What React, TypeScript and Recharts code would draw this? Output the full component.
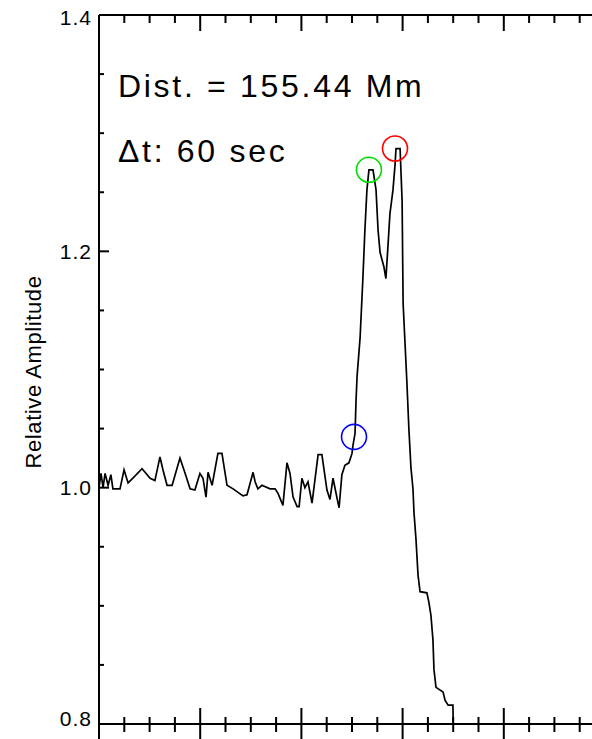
import { LineChart, Line, XAxis, YAxis, ReferenceDot, Customized } from 'recharts';

const time = [
    0, 0.8, 1.6, 2.4, 3.6, 4.7, 5.5, 8.3, 9.9, 11.5, 13.4, 17.0, 18.2, 20.2, 22.1, 24.1, 25.3, 26.9, 28.9,
    32.0, 33.6, 36.0, 37.9, 39.9, 41.1, 42.3, 43.1, 44.7, 47.0, 48.6, 50.6, 53.0, 56.9, 58.5, 60.9, 61.7,
    62.8, 64.4, 67.6, 69.6, 70.8, 72.7, 74.3, 75.5, 76.7, 78.3, 79.1, 80.2, 81.4, 82.6, 84.2, 86.6, 88.1,
    90.1, 91.3, 92.5, 94.1, 94.9, 96.0, 97.2, 98.8, 100.0, 100.4, 101.2, 101.6, 102.0, 103.2, 104.3, 105.1,
    105.9, 106.7, 108.3, 109.5, 110.3, 111.1, 112.6, 113.4, 114.2, 115.0, 116.2, 117.0, 117.4, 119.0, 119.8,
    120.2, 121.7, 122.5, 123.3, 124.1, 124.5, 125.3, 126.1, 126.9, 129.6, 130.4, 131.2, 132.0, 132.4, 133.2,
    136.0, 136.8, 138.0, 139.9, 140.0,
];

const amplitude = [
    1.000, 1.012, 1.000, 1.012, 1.002, 1.011, 0.999, 0.999, 1.015, 1.004, 1.008, 1.016, 1.013, 1.008, 1.006,
    1.026, 1.015, 1.002, 1.002, 1.025, 1.015, 0.999, 0.998, 1.012, 1.008, 0.992, 1.013, 1.002, 1.029, 1.029,
    1.002, 0.999, 0.993, 0.994, 1.013, 1.005, 0.999, 1.002, 0.999, 0.999, 0.995, 0.985, 1.021, 1.012, 0.992,
    0.984, 0.984, 1.008, 1.000, 1.005, 0.987, 1.028, 1.028, 0.998, 0.990, 1.008, 0.991, 0.983, 1.011, 1.019,
    1.021, 1.029, 1.036, 1.046, 1.074, 1.094, 1.127, 1.177, 1.218, 1.252, 1.269, 1.269, 1.252, 1.218, 1.199,
    1.187, 1.177, 1.204, 1.232, 1.252, 1.273, 1.287, 1.287, 1.243, 1.156, 1.089, 1.049, 1.017, 0.999, 0.979,
    0.956, 0.926, 0.912, 0.911, 0.903, 0.892, 0.871, 0.846, 0.831, 0.827, 0.820, 0.816, 0.816, 0.800,
];

// marked points: start of rise, first peak, second peak
const markers = [
    { t: 100.8, v: 1.043, color: '#0000ff' },
    { t: 106.7, v: 1.269, color: '#00dd00' },
    { t: 117.0, v: 1.287, color: '#ff0000' },
];

const xTicks = [0, 10, 20, 30, 40, 50, 60, 70, 80, 90, 100, 110, 120, 130, 140, 150, 160, 170, 180, 190, 200];
const yTicks = [0.8, 0.85, 0.9, 0.95, 1.0, 1.05, 1.1, 1.15, 1.2, 1.25, 1.3, 1.35, 1.4];
const yLabels: Record<string, string> = { '0.8': '0.8', '1': '1.0', '1.2': '1.2', '1.4': '1.4' };

const data = time.map((t, i) => ({ t, v: amplitude[i] }));

const font = "'Liberation Sans', Arial, sans-serif";

const isMajorY = (v: number) => Math.round(v * 100) % 20 === 0;

const YTick = (props: any) => {
    const { x, y, payload } = props;
    const major = isMajorY(payload.value);
    const label = yLabels[String(payload.value)];
    // end labels sit slightly inside the frame like the original
    let dy = 7.5;
    if (payload.value === 1.4) dy = 10;
    if (payload.value === 0.8) dy = 2;
    return (
        <g>
            <line x1={x} x2={x + (major ? 10 : 5)} y1={y} y2={y} stroke="#000" strokeWidth={2} />
            {label && (
                <text x={92} y={y + dy} textAnchor="end" fill="#000" style={{ fontFamily: font, fontSize: 21, letterSpacing: 1 }}>
                    {label}
                </text>
            )}
        </g>
    );
};

const BottomTick = (props: any) => {
    const { x, y, payload } = props;
    const major = payload.value % 40 === 0;
    return <line x1={x} x2={x} y1={y - (major ? 16 : 7)} y2={y + (major ? 16 : 8)} stroke="#000" strokeWidth={2} />;
};

const TopTick = (props: any) => {
    const { x, y, payload } = props;
    const major = payload.value % 40 === 0;
    return <line x1={x} x2={x} y1={y} y2={y + (major ? 16 : 8)} stroke="#000" strokeWidth={2} />;
};

const Annotations = () => (
    <g fill="#000" style={{ fontFamily: font }}>
        <text x={118} y={97} fontSize={32} letterSpacing={2.7}>Dist. = 155.44 Mm</text>
        <text x={118} y={162} fontSize={32} letterSpacing={2.7}>Δt: 60 sec</text>
        <text x={41} y={372} fontSize={22} letterSpacing={0.6} textAnchor="middle" transform="rotate(-90, 41, 372)">
            Relative Amplitude
        </text>
    </g>
);

const App = () => {
    return (
        <div style={{ position: 'absolute', left: 0, top: 0, width: 592, height: 739, overflow: 'hidden', background: '#fff' }}>
            <LineChart width={620} height={739} data={data} margin={{ top: 14, right: 15, bottom: 14, left: 0 }}>
                <XAxis
                    xAxisId="b"
                    dataKey="t"
                    type="number"
                    domain={[0, 200]}
                    ticks={xTicks}
                    interval={0}
                    height={1}
                    tickSize={0}
                    tickMargin={0}
                    tickLine={false}
                    axisLine={{ stroke: '#000', strokeWidth: 2 }}
                    tick={<BottomTick />}
                    allowDataOverflow
                />
                <XAxis
                    xAxisId="t"
                    orientation="top"
                    dataKey="t"
                    type="number"
                    domain={[0, 200]}
                    ticks={xTicks}
                    interval={0}
                    height={1}
                    tickSize={0}
                    tickMargin={0}
                    tickLine={false}
                    axisLine={{ stroke: '#000', strokeWidth: 2 }}
                    tick={<TopTick />}
                    allowDataOverflow
                />
                <YAxis
                    type="number"
                    domain={[0.8, 1.4]}
                    ticks={yTicks}
                    interval={0}
                    width={99}
                    tickSize={0}
                    tickMargin={0}
                    tickLine={false}
                    axisLine={{ stroke: '#000', strokeWidth: 2 }}
                    tick={<YTick />}
                    allowDataOverflow
                />
                <Line
                    xAxisId="b"
                    dataKey="v"
                    type="linear"
                    stroke="#000"
                    strokeWidth={1.7}
                    dot={false}
                    isAnimationActive={false}
                />
                <Line
                    xAxisId="t"
                    dataKey="v"
                    type="linear"
                    stroke="none"
                    dot={false}
                    legendType="none"
                    isAnimationActive={false}
                />
                {markers.map((m) => (
                    <ReferenceDot
                        key={m.color}
                        xAxisId="b"
                        x={m.t}
                        y={m.v}
                        r={12.5}
                        fill="none"
                        stroke={m.color}
                        strokeWidth={1.6}
                    />
                ))}
                <Customized component={Annotations} />
            </LineChart>
        </div>
    );
};

export default App;
